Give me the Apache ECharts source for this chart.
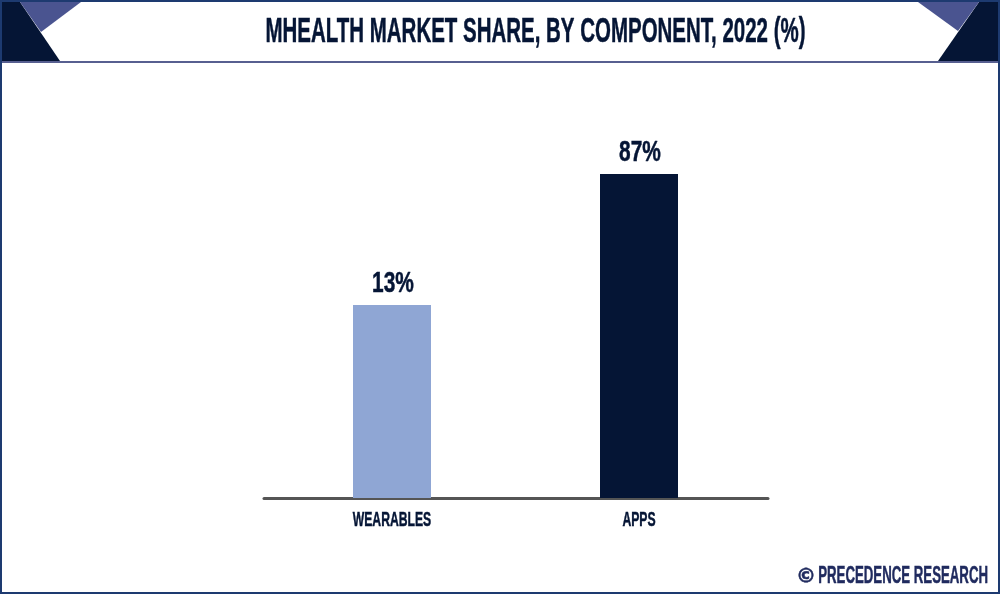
<!DOCTYPE html>
<html>
<head>
<meta charset="utf-8">
<style>
html, body { margin: 0; padding: 0; background: #fff; }
#chart { width: 1000px; height: 594px; }
</style>
<script src="https://cdn.jsdelivr.net/npm/echarts@6/dist/echarts.min.js"></script>
</head>
<body>
<div id="chart"></div>
<script>
var chart_title = 'MHEALTH MARKET SHARE, BY COMPONENT, 2022 (%)';
var source_mark = '©';
var source_name = 'PRECEDENCE RESEARCH';
var categories = ['WEARABLES', 'APPS'];
var share_values = [13, 87];
// the source bars do not start at zero: both stand on the same pedestal
var pedestal_values = [96, 96];
var bar_colors = ['#8fa6d4', '#051535'];

var label_font = '"Liberation Sans", sans-serif';
var navy = '#051535';

var mhealth_chart = echarts.init(document.getElementById('chart'));

// no condensed font is installed, so texts are squeezed with scaleX
function squeezed_text(text, x, y, font, scale_x, align, fill) {
    return {
        type: 'text',
        x: x,
        y: y,
        scaleX: scale_x,
        style: {
            text: text,
            textAlign: align,
            textVerticalAlign: 'middle',
            fill: fill,
            stroke: fill,
            lineWidth: 0.5,
            font: font
        }
    };
}

function render_share_label(params, api) {
    var point = api.coord([api.value(0), api.value(1) + api.value(2)]);
    return squeezed_text(api.value(2) + '%', point[0] + 1, point[1] - 21, 'bold 29px ' + label_font, 0.72, 'center', navy);
}

function render_category_label(params, api) {
    var point = api.coord([api.value(0), 0]);
    return squeezed_text(categories[params.dataIndex], point[0], point[1] + 22, 'bold 21px ' + label_font, 0.58, 'center', navy);
}

var options = {
    animation: false,
    backgroundColor: '#fff',
    // second grid only carries the longer base line
    grid: [
        { left: 268.5, width: 494, top: 174, height: 324 },
        { left: 264, width: 504, top: 174, height: 324 }
    ],
    xAxis: [
        {
            type: 'category',
            gridIndex: 0,
            data: categories,
            axisLine: { show: false },
            axisTick: { show: false },
            axisLabel: { show: false }
        },
        {
            type: 'category',
            gridIndex: 1,
            data: categories,
            axisLine: { show: true, lineStyle: { color: '#555555', width: 3 } },
            axisTick: { show: false },
            axisLabel: { show: false }
        }
    ],
    yAxis: [
        { type: 'value', gridIndex: 0, min: 0, max: 183, show: false },
        { type: 'value', gridIndex: 1, min: 0, max: 183, show: false }
    ],
    series: [
        {
            type: 'bar',
            stack: 'share',
            barWidth: 78,
            silent: true,
            itemStyle: {
                color: function (p) { return bar_colors[p.dataIndex]; }
            },
            data: pedestal_values
        },
        {
            type: 'bar',
            stack: 'share',
            barWidth: 78,
            itemStyle: {
                color: function (p) { return bar_colors[p.dataIndex]; }
            },
            data: share_values
        },
        {
            type: 'custom',
            silent: true,
            renderItem: render_share_label,
            data: categories.map(function (c, i) { return [i, pedestal_values[i], share_values[i]]; })
        },
        {
            type: 'custom',
            silent: true,
            renderItem: render_category_label,
            data: categories.map(function (c, i) { return [i, 0]; })
        }
    ],
    graphic: [
        { type: 'polygon', shape: { points: [[2, 2], [20, 2], [60, 61], [2, 61]] }, style: { fill: navy } },
        { type: 'polygon', shape: { points: [[20, 2], [81, 2], [41, 32]] }, style: { fill: '#4a5490' } },
        { type: 'polygon', shape: { points: [[979, 2], [998, 2], [998, 61], [938, 61]] }, style: { fill: navy } },
        { type: 'polygon', shape: { points: [[918, 2], [979, 2], [958, 31]] }, style: { fill: '#4a5490' } },
        { type: 'line', shape: { x1: 2, y1: 62, x2: 998, y2: 62 }, style: { stroke: '#1f2a6b', lineWidth: 1.5 } },
        { type: 'rect', shape: { x: 1, y: 1, width: 998, height: 592 }, style: { fill: 'none', stroke: '#1d3a70', lineWidth: 2 } },
        squeezed_text(chart_title, 535.5, 32, 'bold 35px ' + label_font, 0.585, 'center', navy),
        squeezed_text(source_mark, 796, 577, 'bold 20px "DejaVu Sans", sans-serif', 1, 'left', '#1f2a5e'),
        squeezed_text(source_name, 988, 577, 'bold 23px ' + label_font, 0.575, 'right', '#1f2a5e')
    ]
};

mhealth_chart.setOption(options);
</script>
</body>
</html>
